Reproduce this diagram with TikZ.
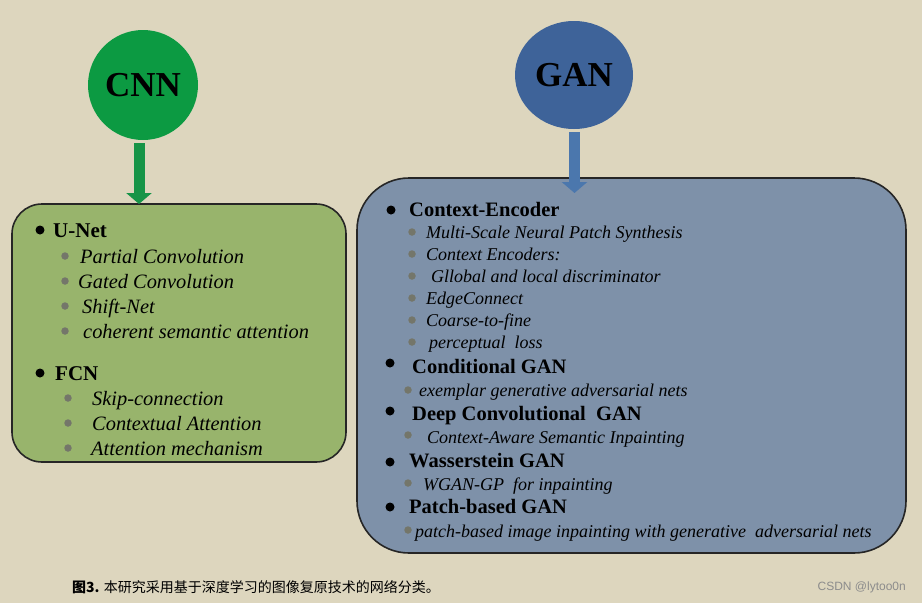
\documentclass[tikz,border=0pt]{standalone}
\usepackage{fontspec}
\setmainfont{Liberation Serif}
\newfontfamily\cjk{Noto Sans CJK SC}
\newfontfamily\wmfont{Liberation Sans}
\usetikzlibrary{shapes,arrows.meta,calc,positioning}
\definecolor{bgcol}{HTML}{DDD6BE}
\definecolor{cnngreen}{HTML}{0C9A42}
\definecolor{gangblue}{HTML}{3E6399}
\definecolor{boxgreen}{HTML}{98B46C}
\definecolor{boxblue}{HTML}{7E91A9}
\definecolor{arrgreen}{HTML}{169447}
\definecolor{arrblue}{HTML}{4B77AD}
\definecolor{dotgray}{HTML}{74766A}
\tikzset{
    semithick,
    topic/.style ={ellipse, inner sep=0pt, text=black, font=\fontsize{35}{40}\selectfont\bfseries},
    group/.style ={rectangle, draw=black!85, line width=1.6pt},
    dot/.style = {circle, fill=black, inner sep=0pt, minimum size=9pt, node contents={}},
    gdot/.style = {circle, fill=dotgray, inner sep=0pt, minimum size=7.5pt, node contents={}},
    lhead/.style = {anchor=base west, inner sep=0pt, font=\fontsize{21}{25}\selectfont\bfseries},
    litem/.style = {anchor=base west, inner sep=0pt, font=\fontsize{20.4}{24}\selectfont\itshape},
    rhead/.style = {anchor=base west, inner sep=0pt, font=\fontsize{20.5}{24}\selectfont\bfseries},
    ritem/.style = {anchor=base west, inner sep=0pt, font=\fontsize{18}{21}\selectfont\itshape},
    flow/.style = {line width=11pt, -{Triangle[width=25pt,length=11pt]}}
}

\begin{document}
\begin{tikzpicture}[x=1pt,y=-1pt]
	\useasboundingbox[fill=bgcol] (0,0) rectangle (922,603);
	% the two families
	\node[topic, fill=cnngreen, minimum width=110pt, minimum height=110pt] (cnn) at (143,85) {CNN};
	\node[topic, fill=gangblue, minimum width=118pt, minimum height=108pt] (gan) at (574,75) {GAN};

	\node[group, fill=boxgreen, rounded corners=30pt, minimum width=334pt, minimum height=258pt] (cnnbox) at (179,333) {};
	\node[group, fill=boxblue, rounded corners=52pt, minimum width=549pt, minimum height=375pt] (ganbox) at (631.5,365.5) {};

	\coordinate (cnnin) at (139,204);
	\coordinate (ganin) at (574.5,193);
	\draw[flow, arrgreen] ($(cnn.south -| cnnin)+(0,3)$) -- (cnnin);
	\draw[flow, arrblue] ($(gan.south -| ganin)+(0,3)$) -- (ganin);

	% CNN side
	\node (d1) at (40,230) [dot];
	\node[lhead] (unet) at (53,237) {U-Net};
	\node (g1) at (65,256) [gdot];
	\node[litem] (pconv) at (80,263) {Partial Convolution};
	\node (g2) at (65,281) [gdot];
	\node[litem] (gconv) at (78,288) {Gated Convolution};
	\node (g3) at (65,306) [gdot];
	\node[litem] (shift) at (82,313) {Shift-Net};
	\node (g4) at (65,331) [gdot];
	\node[litem] (csa) at (83,338) {coherent semantic attention};

	\node (d2) at (40,373) [dot];
	\node[lhead] (fcn) at (55,380) {FCN};
	\node (g5) at (68,398) [gdot];
	\node[litem] (skip) at (92,405) {Skip-connection};
	\node (g6) at (68,423) [gdot];
	\node[litem] (ctxatt) at (92,430) {Contextual Attention};
	\node (g7) at (68,448) [gdot];
	\node[litem] (attmech) at (91,455) {Attention mechanism};

	% GAN side
	\node (d3) at (391,210) [dot];
	\node[rhead] (ce) at (409,216) {Context-Encoder};
	\node (g8) at (412,232) [gdot];
	\node[ritem] (msnps) at (426,238) {Multi-Scale Neural Patch Synthesis};
	\node (g9) at (412,254) [gdot];
	\node[ritem] (cenc) at (426,260) {Context Encoders:};
	\node (g10) at (412,276) [gdot];
	\node[ritem] (glob) at (431,282) {Gllobal and local discriminator};
	\node (g11) at (412,298) [gdot];
	\node[ritem] (edge) at (426,304) {EdgeConnect};
	\node (g12) at (412,320) [gdot];
	\node[ritem] (c2f) at (426,326) {Coarse-to-fine};
	\node (g13) at (412,342) [gdot];
	\node[ritem] (perc) at (429,348) {perceptual~~loss};

	\node (d4) at (390,363) [dot];
	\node[rhead] (cgan) at (412,373) {Conditional GAN};
	\node (g14) at (408,390) [gdot];
	\node[ritem] (egan) at (419,396) {exemplar generative adversarial nets};

	\node (d5) at (390,411) [dot];
	\node[rhead] (dcgan) at (412,420) {Deep Convolutional~~GAN};
	\node (g15) at (408,435) [gdot];
	\node[ritem] (casi) at (427,443) {Context-Aware Semantic Inpainting};

	\node (d6) at (390,462) [dot];
	\node[rhead] (wgan) at (409,467) {Wasserstein GAN};
	\node (g16) at (408,483) [gdot];
	\node[ritem] (wgp) at (423,490) {WGAN-GP~~for inpainting};

	\node (d7) at (390,507) [dot];
	\node[rhead] (pgan) at (409,513) {Patch-based GAN};
	\node (g17) at (408,530) [gdot];
	\node[ritem] (pbii) at (415,537) {patch-based image inpainting with generative~~adversarial nets};

	% caption
	\node[anchor=west, inner sep=0pt, font=\cjk\fontsize{14}{17}\selectfont] (cap) at (72,587) {\textbf{图3.} 本研究采用基于深度学习的图像复原技术的网络分类。};
	\node[anchor=east, inner sep=0pt, text=black!45, font=\wmfont\fontsize{12}{14}\selectfont] (wm) at (906,587) {CSDN @lytoo0n};
\end{tikzpicture}
\end{document}
